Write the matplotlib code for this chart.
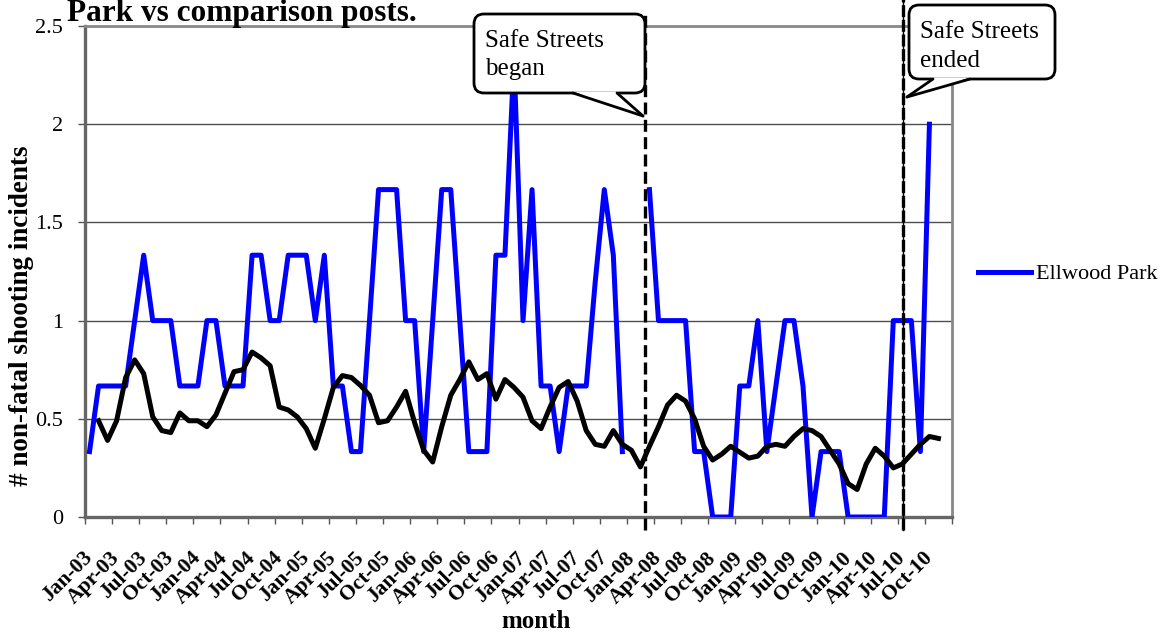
import numpy as np
import matplotlib
matplotlib.use('Agg')
import matplotlib.pyplot as plt
import matplotlib.transforms as mtransforms
from matplotlib.patches import FancyBboxPatch, Polygon

plt.rcParams['font.family'] = ['Liberation Serif', 'DejaVu Serif']

nan = np.nan

# monthly values Jan-03 .. Dec-10
ellwood = [0.333, 0.667, 0.667, 0.667, 0.667, 1.0, 1.333, 1.0, 1.0, 1.0, 0.667, 0.667,
           0.667, 1.0, 1.0, 0.667, 0.667, 0.667, 1.333, 1.333, 1.0, 1.0, 1.333, 1.333,
           1.333, 1.0, 1.333, 0.667, 0.667, 0.333, 0.333, 1.0, 1.667, 1.667, 1.667, 1.0,
           1.0, 0.333, 1.0, 1.667, 1.667, 1.0, 0.333, 0.333, 0.333, 1.333, 1.333, 2.333,
           1.0, 1.667, 0.667, 0.667, 0.333, 0.667, 0.667, 0.667, 1.2, 1.667, 1.333, 0.333,
           nan, nan, 1.667, 1.0, 1.0, 1.0, 1.0, 0.333, 0.333, 0.0, 0.0, 0.0,
           0.667, 0.667, 1.0, 0.333, 0.667, 1.0, 1.0, 0.667, 0.0, 0.333, 0.333, 0.333,
           0.0, 0.0, 0.0, 0.0, 0.0, 1.0, 1.0, 1.0, 0.333, 2.0, nan, nan]

comparison = [nan, 0.49, 0.39, 0.49, 0.71, 0.80, 0.73, 0.51, 0.44, 0.43, 0.53, 0.49,
              0.49, 0.46, 0.52, 0.63, 0.74, 0.75, 0.84, 0.81, 0.77, 0.56, 0.545, 0.51,
              0.45, 0.35, 0.50, 0.66, 0.72, 0.71, 0.67, 0.62, 0.48, 0.49, 0.56, 0.64,
              0.48, 0.34, 0.28, 0.46, 0.62, 0.70, 0.79, 0.70, 0.73, 0.60, 0.70, 0.66,
              0.61, 0.49, 0.45, 0.56, 0.66, 0.69, 0.59, 0.44, 0.37, 0.36, 0.44, 0.37,
              0.34, 0.255, 0.36, 0.46, 0.57, 0.62, 0.59, 0.50, 0.36, 0.29, 0.32, 0.36,
              0.33, 0.30, 0.31, 0.36, 0.37, 0.36, 0.41, 0.45, 0.44, 0.41, 0.34, 0.27,
              0.17, 0.14, 0.27, 0.35, 0.31, 0.25, 0.27, 0.32, 0.37, 0.41, 0.40, nan]

tick_labels = ['Jan-03', 'Apr-03', 'Jul-03', 'Oct-03', 'Jan-04', 'Apr-04', 'Jul-04', 'Oct-04',
               'Jan-05', 'Apr-05', 'Jul-05', 'Oct-05', 'Jan-06', 'Apr-06', 'Jul-06', 'Oct-06',
               'Jan-07', 'Apr-07', 'Jul-07', 'Oct-07', 'Jan-08', 'Apr-08', 'Jul-08', 'Oct-08',
               'Jan-09', 'Apr-09', 'Jul-09', 'Oct-09', 'Jan-10', 'Apr-10', 'Jul-10', 'Oct-10']

began_x = 61.5   # Safe Streets began (category position)
ended_x = 90.1   # Safe Streets ended

W, H = 1167, 636
fig = plt.figure(figsize=(W / 100, H / 100), dpi=100)
ax = fig.add_axes([85 / W, 119 / H, 867 / W, 491 / H])

x = np.arange(len(ellwood))
ax.plot(x, ellwood, color='#0000ff', lw=3.6, label='Ellwood Park', zorder=3)
ax.plot(x, comparison, color='black', lw=3.6, zorder=3)

ax.set_xlim(-0.5, len(ellwood) - 0.5)
ax.set_ylim(0, 2.5)

ax.set_yticks([0, 0.5, 1, 1.5, 2, 2.5])
ax.set_yticklabels(['0', '0.5', '1', '1.5', '2', '2.5'], fontsize=16)
ax.yaxis.grid(True, color='#4d4d4d', lw=1)
ax.set_axisbelow(True)
ax.tick_params(axis='y', direction='out', length=5, width=1, color='#555555', pad=11)

# tick marks on category boundaries, labels on every 3rd category
ax.set_xticks(np.arange(-0.5, len(ellwood), 3))
ax.set_xticklabels([])
ax.tick_params(axis='x', direction='out', length=5, width=1, color='#555555')
lab_trans = (mtransforms.blended_transform_factory(ax.transData, ax.transAxes)
             + mtransforms.ScaledTranslation(0, -38 / 100, fig.dpi_scale_trans))
for pos, lab in zip(np.arange(0, len(ellwood), 3), tick_labels):
    ax.text(pos, 0, lab, transform=lab_trans, rotation=45, ha='right', va='center',
            rotation_mode='anchor', fontweight='bold', fontsize=15.5, clip_on=False)

for side in ['top', 'right']:
    ax.spines[side].set_color('#888888')
    ax.spines[side].set_linewidth(2)
for side in ['left', 'bottom']:
    ax.spines[side].set_color('#666666')
    ax.spines[side].set_linewidth(2.4)

ax.set_xlabel('month', fontweight='bold', fontsize=18)
ax.xaxis.set_label_coords((536 - 85) / 867, (517 - 610) / 491)
ax.set_ylabel('# non-fatal shooting incidents', fontweight='bold', fontsize=19.5)
ax.yaxis.set_label_coords((34 - 85) / 867, (517 - 316) / 491)

ax.legend(loc='center left', bbox_to_anchor=(978 / W, 1 - 274 / H), bbox_transform=fig.transFigure,
          frameon=False, fontsize=16, handlelength=2.4, handletextpad=0.2,
          borderpad=0, borderaxespad=0)

fig.text(67 / W, 1 - 20.5 / H, 'Park vs comparison posts.', fontsize=22.5, fontweight='bold',
         va='baseline', ha='left')

# event lines
ax.plot([began_x, began_x], [-0.065, 2.56], color='black', lw=2.4, ls=(0, (3.6, 1.6)),
        clip_on=False, zorder=4)
ax.plot([ended_x, ended_x], [-0.065, 2.64], color='black', lw=1, clip_on=False, zorder=4)
ax.plot([ended_x, ended_x], [-0.065, 2.64], color='black', lw=2.4, ls=(0, (3.6, 0.8)),
        clip_on=False, zorder=4)

# callouts, drawn in image pixel coordinates (y down)
px = mtransforms.Affine2D().scale(1 / 100, -1 / 100).translate(0, H / 100) + fig.dpi_scale_trans


def callout(box, base, tip, lines, tx, baselines):
    x0, y0, x1, y1 = box
    b = FancyBboxPatch((x0, y0), x1 - x0, y1 - y0, boxstyle='round,pad=0,rounding_size=10',
                       transform=px, fc='white', ec='black', lw=2, zorder=6, clip_on=False)
    fig.add_artist(b)
    tail = Polygon([(base[0], y1 - 1.5), (base[1], y1 - 1.5), tip], closed=True, transform=px,
                   fc='white', ec='none', zorder=7, clip_on=False)
    fig.add_artist(tail)
    for bx in base:
        fig.add_artist(plt.Line2D([bx, tip[0]], [y1, tip[1]], transform=px, color='black',
                                  lw=2, zorder=8, solid_capstyle='round'))
    for s, yb in zip(lines, baselines):
        fig.text(tx, yb, s, transform=px, fontsize=18, va='baseline', ha='left', zorder=9)


callout((474, 14, 645, 93), (573, 617), (643, 116), ['Safe Streets', 'began'], 485, [47, 75])
callout((909, 5, 1055, 79), (933, 970), (907, 97), ['Safe Streets', 'ended'], 920, [38, 67])

fig.savefig('out.png', dpi=100)
